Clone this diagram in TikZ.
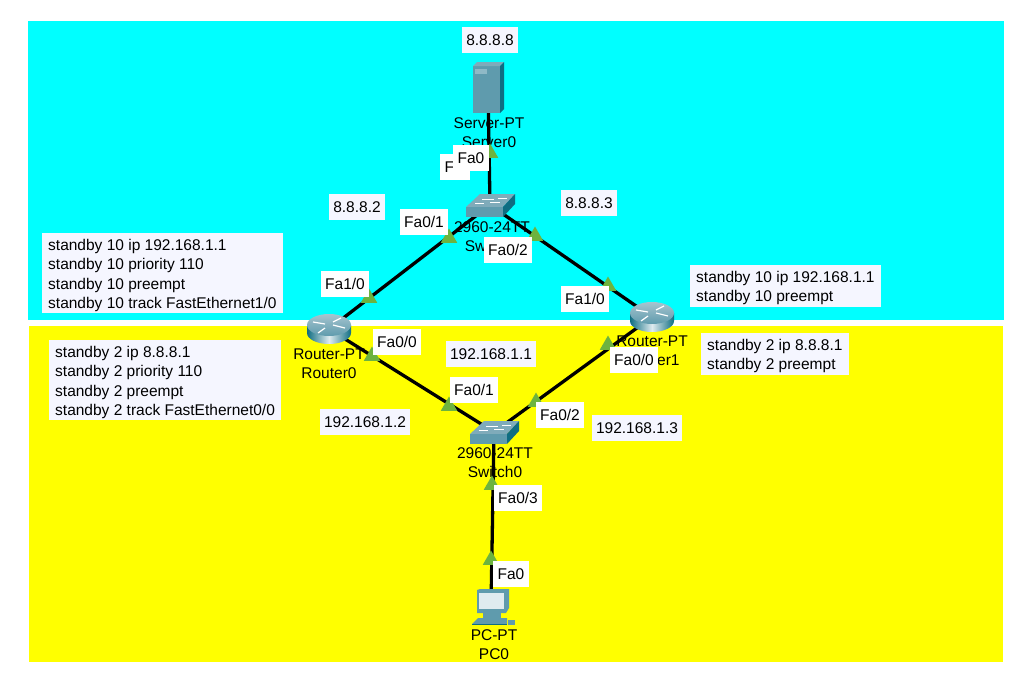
\documentclass[tikz,border=0pt]{standalone}
\usepackage{fontspec}
\setmainfont{Liberation Sans}
\usepackage{tikz}
\usetikzlibrary{shapes.geometric}

\definecolor{zonetop}{HTML}{00FFFF}
\definecolor{zonelow}{HTML}{FFFF00}
\definecolor{notefill}{HTML}{F5F6FF}
\definecolor{portgreen}{HTML}{6DB33F}
\definecolor{boxfront}{HTML}{5F9BAD}
\definecolor{boxside}{HTML}{0F6D82}
\definecolor{boxtop}{HTML}{7FABBA}

\newcommand{\notegap}{\rule{0pt}{15.8pt}}

\tikzset{
  porttag/.style={fill=white,inner xsep=4.5pt,inner ysep=0pt,minimum height=26pt,font=\fontsize{15.5}{15.5}\selectfont},
  addrtag/.style={fill=notefill,inner xsep=4.5pt,inner ysep=0pt,minimum height=26pt,font=\fontsize{15.5}{15.5}\selectfont},
  notetag/.style={fill=notefill,align=left,anchor=north west,inner xsep=6pt,inner ysep=1.5pt,font=\fontsize{15.5}{19.3}\selectfont},
  devname/.style={inner sep=0pt,font=\fontsize{15.5}{15.5}\selectfont},
  device/.style={inner sep=0pt,minimum size=2pt},
  link/.style={line width=3.3pt,black},
  portmark/.style={regular polygon,regular polygon sides=3,fill=portgreen,inner sep=0pt,minimum size=19pt},
  pics/serverpt/.style={code={
    \fill[boxfront] (-15,-22) rectangle (12,25);
    \fill[boxtop] (-15,-22) -- (-11,-26) -- (16,-26) -- (12,-22) -- cycle;
    \fill[boxside] (12,-22) -- (16,-26) -- (16,21) -- (12,25) -- cycle;
    \fill[boxfront!70!white] (-13,-19) rectangle (-1,-14);
  }},
  pics/switchpt/.style={code={
    \fill[boxtop] (-24,2) -- (-10,-11) -- (25,-11) -- (13,2) -- cycle;
    \fill[boxfront] (-24,2) rectangle (13,12);
    \fill[boxside] (13,2) -- (25,-11) -- (25,-1) -- (13,12) -- cycle;
    \draw[white,line width=0.8pt] (-8,-6) -- (4,-6) (8,-7) -- (17,-7) (-15,-2) -- (-6,-2) (0,-3) -- (10,-3);
  }},
  pics/routerpt/.style={code={
    \shade[left color=boxside,right color=boxside,middle color=white!80!boxfront]
      (-22,-4) -- (-22,4) arc[start angle=180,end angle=360,x radius=22,y radius=-11] -- (22,-4) -- cycle;
    \shade[top color=boxtop!70!white,bottom color=boxfront] (0,-4) ellipse[x radius=22,y radius=11];
    \draw[white,line width=1.2pt] (-16,-7) -- (-4,-5) (4,-4) -- (16,-1) (4,-7) -- (12,-11) (-4,-1) -- (-11,4);
  }},
  pics/pcpt/.style={code={
    \fill[boxfront] (-14,-17) -- (-11,-18) -- (18,-18) -- (18,1) -- (15,6) -- (-14,6) -- cycle;
    \fill[white!80!boxfront] (-12,-14) rectangle (13,2);
    \fill[boxfront] (-8,6) rectangle (10,11);
    \fill[boxfront] (-19,17) -- (-13,11) -- (16,11) -- (16,17) -- cycle;
    \fill[boxside] (-19,17) rectangle (16,18);
    \fill[boxfront] (17,13) rectangle (24,18);
  }},
}

\begin{document}
\begin{tikzpicture}[x=1pt,y=-1pt]
    \useasboundingbox[fill=white] (0,0) rectangle (1035,681);
    \fill[zonetop] (28,21) rectangle (1004,320);
    \fill[zonelow] (29,326) rectangle (1003,662);

    % devices are placed first, the links run between them
    \node[device] (Server0) at (488,88) {};
    \node[device] (Switch1) at (490,205) {};
    \node[device] (Router0) at (329,329) {};
    \node[device] (Router1) at (652,317) {};
    \node[device] (Switch0) at (494,432) {};
    \node[device] (PC0) at (491,607) {};

    \draw[link] (Server0) -- (Switch1);
    \draw[link] (Switch1) -- (Router0);
    \draw[link] (Switch1) -- (Router1);
    \draw[link] (Router0) -- (Switch0);
    \draw[link] (Router1) -- (Switch0);
    \draw[link] (Switch0) -- (PC0);

    \pic at (Server0) {serverpt};
    \pic at (Switch1) {switchpt};
    \pic at (Router0) {routerpt};
    \pic at (Router1) {routerpt};
    \pic at (Switch0) {switchpt};
    \pic at (PC0) {pcpt};

    \node[devname] (serverType) at (489,123) {Server-PT};
    \node[devname] (serverName) at (489,142) {Server0};
    \node[devname] (swTopType) at (492,227) {2960-24TT};
    \node[devname] (swTopName) at (492,246) {Switch1};
    \node[devname] (rZeroType) at (329,354) {Router-PT};
    \node[devname] (rZeroName) at (329,373) {Router0};
    \node[devname] (rOneType) at (652,341) {Router-PT};
    \node[devname] (rOneName) at (652,360) {Router1};
    \node[devname] (swLowType) at (495,453) {2960-24TT};
    \node[devname] (swLowName) at (495,472) {Switch0};
    \node[devname] (pcType) at (494,635) {PC-PT};
    \node[devname] (pcName) at (494,654) {PC0};

    \node[portmark] (markA) at (490,153) {};
    \node[portmark] (markB) at (449,238) {};
    \node[portmark] (markC) at (369,298) {};
    \node[portmark] (markD) at (535,236) {};
    \node[portmark] (markE) at (608,286) {};
    \node[portmark] (markF) at (372,356) {};
    \node[portmark] (markG) at (449,406) {};
    \node[portmark] (markH) at (608,345) {};
    \node[portmark] (markI) at (536,402) {};
    \node[portmark] (markJ) at (492,485) {};
    \node[portmark] (markK) at (491,560) {};

    \node[porttag,text width=21pt,align=left] (portHidden) at (455,167) {F};
    \node[porttag] (portServer) at (471,158) {Fa0};
    \node[porttag] (portS1a) at (424,222) {Fa0/1};
    \node[porttag] (portS1b) at (508,250) {Fa0/2};
    \node[porttag] (portR0a) at (345,284) {Fa1/0};
    \node[porttag] (portR1a) at (585,299) {Fa1/0};
    \node[porttag] (portR0b) at (397,342) {Fa0/0};
    \node[porttag] (portR1b) at (634,360) {Fa0/0};
    \node[porttag] (portS0a) at (474,390) {Fa0/1};
    \node[porttag] (portS0b) at (560,415) {Fa0/2};
    \node[porttag] (portS0c) at (518,498) {Fa0/3};
    \node[porttag] (portPC) at (511,574) {Fa0};

    \node[addrtag] (addrServer) at (490,40) {8.8.8.8};
    \node[addrtag] (addrR0top) at (357,207) {8.8.8.2};
    \node[addrtag] (addrR1top) at (589,203) {8.8.8.3};
    \node[addrtag] (addrVip) at (491,354) {192.168.1.1};
    \node[addrtag] (addrR0low) at (365,422) {192.168.1.2};
    \node[addrtag] (addrR1low) at (637,428) {192.168.1.3};

    \node[notetag] (noteR0top) at (42,233) {\notegap standby 10 ip 192.168.1.1\\standby 10 priority 110\\standby 10 preempt\\standby 10 track FastEthernet1/0};
    \node[notetag] (noteR0low) at (49,340) {\notegap standby 2 ip 8.8.8.1\\standby 2 priority 110\\standby 2 preempt\\standby 2 track FastEthernet0/0};
    \node[notetag] (noteR1top) at (690,265) {\notegap standby 10 ip 192.168.1.1\\standby 10 preempt};
    \node[notetag] (noteR1low) at (701,333) {\notegap standby 2 ip 8.8.8.1\\standby 2 preempt};
\end{tikzpicture}
\end{document}
